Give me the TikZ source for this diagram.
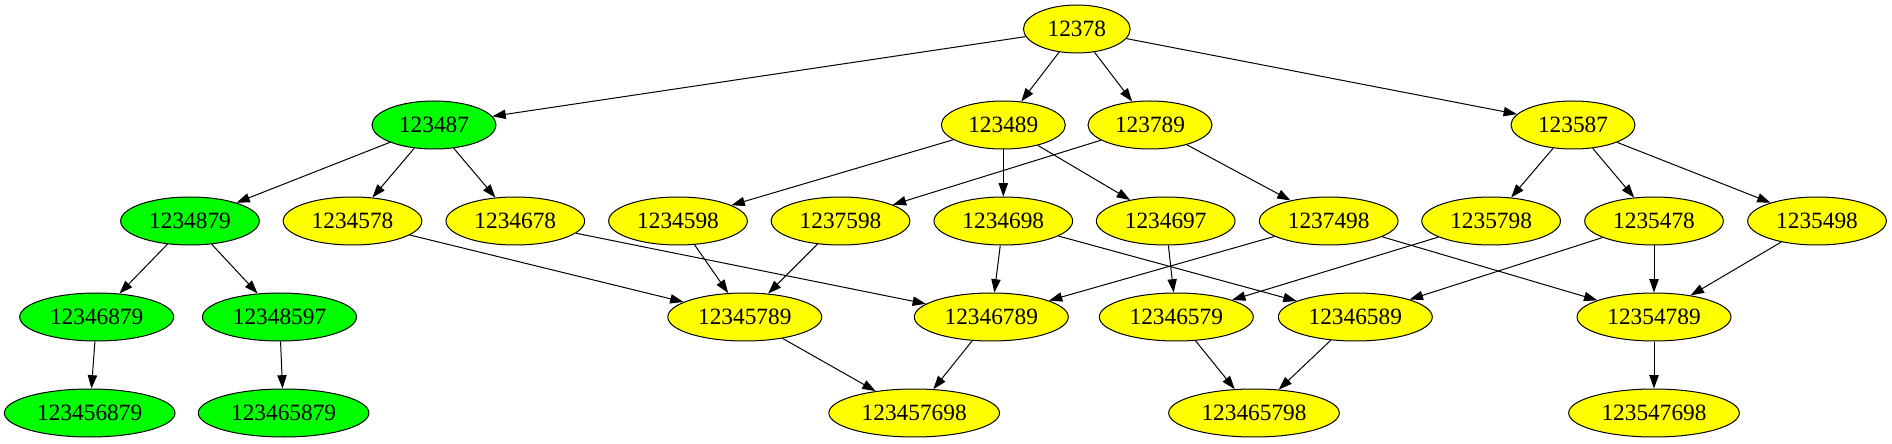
\documentclass[tikz,border=0pt]{standalone}
\usepackage{fontspec}
\setmainfont{Liberation Serif}
\usepackage{xcolor}
\usepackage{tikz}
\usetikzlibrary{arrows.meta,shapes.geometric}
\definecolor{latYellow}{RGB}{255,255,0}
\definecolor{latGreen}{RGB}{0,255,0}

\begin{document}
\begin{tikzpicture}[x=0.75pt,y=0.75pt,
  every node/.style={ellipse,draw=black,line width=0.75pt,minimum height=36pt,inner sep=0pt,font=\fontsize{17.5}{20}\selectfont},
  yel/.style={fill=latYellow}, grn/.style={fill=latGreen},
  dfive/.style={minimum width=80pt}, dsix/.style={minimum width=93pt},
  dseven/.style={minimum width=104pt}, deight/.style={minimum width=115.5pt},
  dnine/.style={minimum width=128pt},
  link/.style={draw=black,line width=0.75pt,-{Triangle[length=10pt,width=7pt]}}]
\useasboundingbox (0,0) rectangle (1892,443);
\node[yel,dfive] (n12378) at (1076.8,414) {12378};
\node[grn,dsix] (n123487) at (434,318) {123487};
\node[yel,dsix] (n123489) at (1003.3,318) {123489};
\node[yel,dsix] (n123789) at (1150,318) {123789};
\node[yel,dsix] (n123587) at (1573,318) {123587};
\node[grn,dseven] (n1234879) at (190,222) {1234879};
\node[yel,dseven] (n1234578) at (352.5,222) {1234578};
\node[yel,dseven] (n1234678) at (515.3,222) {1234678};
\node[yel,dseven] (n1234598) at (678,222) {1234598};
\node[yel,dseven] (n1237598) at (840.5,222) {1237598};
\node[yel,dseven] (n1234698) at (1003.3,222) {1234698};
\node[yel,dseven] (n1234697) at (1165.7,222) {1234697};
\node[yel,dseven] (n1237498) at (1328.7,222) {1237498};
\node[yel,dseven] (n1235798) at (1491.1,222) {1235798};
\node[yel,dseven] (n1235478) at (1654,222) {1235478};
\node[yel,dseven] (n1235498) at (1817,222) {1235498};
\node[grn,deight] (n12346879) at (96.7,126) {12346879};
\node[grn,deight] (n12348597) at (279.5,126) {12348597};
\node[yel,deight] (n12345789) at (744.8,126) {12345789};
\node[yel,deight] (n12346789) at (991.3,126) {12346789};
\node[yel,deight] (n12346579) at (1176.3,126) {12346579};
\node[yel,deight] (n12346589) at (1355.3,126) {12346589};
\node[yel,deight] (n12354789) at (1654,126) {12354789};
\node[grn,dnine] (n123456879) at (89.7,30) {123456879};
\node[grn,dnine] (n123465879) at (283.6,30) {123465879};
\node[yel,dnine] (n123457698) at (914.2,30) {123457698};
\node[yel,dnine] (n123465798) at (1254,30) {123465798};
\node[yel,dnine] (n123547698) at (1654,30) {123547698};
\draw[link] (n12378) -- (n123487);
\draw[link] (n12378) -- (n123489);
\draw[link] (n12378) -- (n123789);
\draw[link] (n12378) -- (n123587);
\draw[link] (n123487) -- (n1234879);
\draw[link] (n123487) -- (n1234578);
\draw[link] (n123487) -- (n1234678);
\draw[link] (n123489) -- (n1234598);
\draw[link] (n123489) -- (n1234698);
\draw[link] (n123489) -- (n1234697);
\draw[link] (n123789) -- (n1237598);
\draw[link] (n123789) -- (n1237498);
\draw[link] (n123587) -- (n1235798);
\draw[link] (n123587) -- (n1235478);
\draw[link] (n123587) -- (n1235498);
\draw[link] (n1234879) -- (n12346879);
\draw[link] (n1234879) -- (n12348597);
\draw[link] (n1234578) -- (n12345789);
\draw[link] (n1234678) -- (n12346789);
\draw[link] (n1234598) -- (n12345789);
\draw[link] (n1237598) -- (n12345789);
\draw[link] (n1234698) -- (n12346789);
\draw[link] (n1234698) -- (n12346589);
\draw[link] (n1234697) -- (n12346579);
\draw[link] (n1237498) -- (n12346789);
\draw[link] (n1237498) -- (n12354789);
\draw[link] (n1235798) -- (n12346579);
\draw[link] (n1235478) -- (n12346589);
\draw[link] (n1235478) -- (n12354789);
\draw[link] (n1235498) -- (n12354789);
\draw[link] (n12346879) -- (n123456879);
\draw[link] (n12348597) -- (n123465879);
\draw[link] (n12345789) -- (n123457698);
\draw[link] (n12346789) -- (n123457698);
\draw[link] (n12346579) -- (n123465798);
\draw[link] (n12346589) -- (n123465798);
\draw[link] (n12354789) -- (n123547698);
\end{tikzpicture}
\end{document}
